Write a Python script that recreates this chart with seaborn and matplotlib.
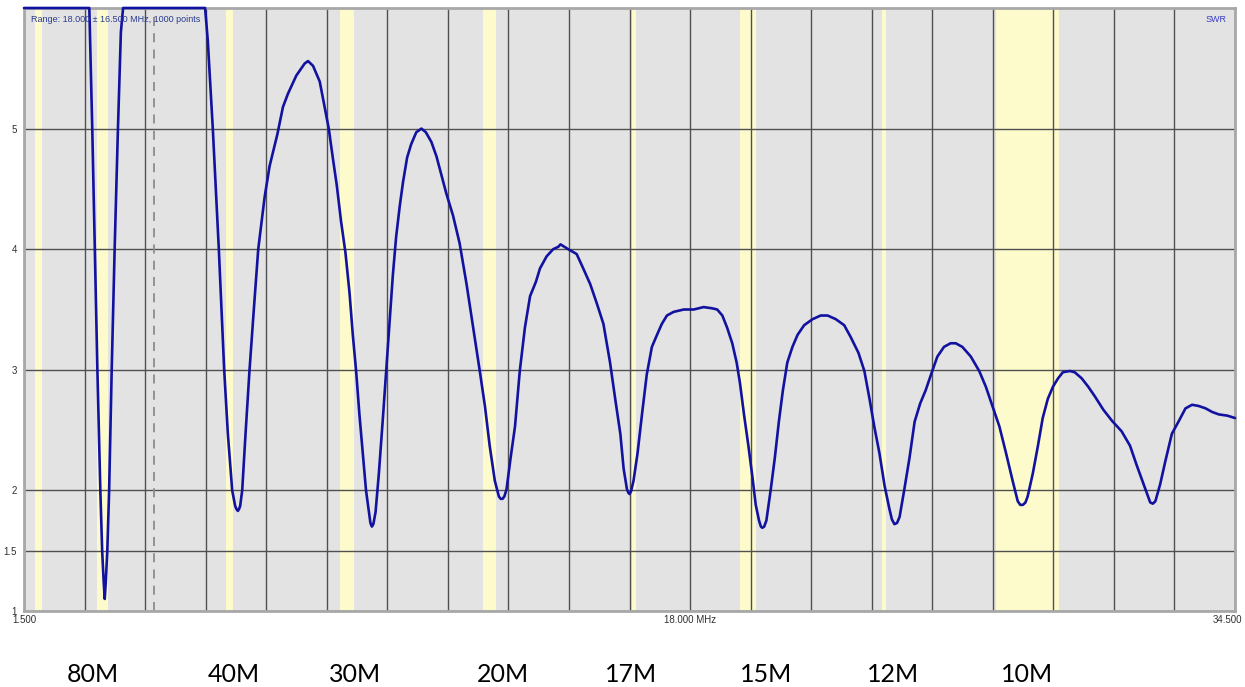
import numpy as np
import pandas as pd
import matplotlib
matplotlib.use("Agg")
import matplotlib.pyplot as plt
import seaborn as sns
from matplotlib.transforms import ScaledTranslation

sns.set_theme(style="white")
plt.rcParams['font.family'] = ['Liberation Sans', 'DejaVu Sans']

# SWR sweep (6.0 = clipped at top of scale)
freq_mhz = [
    1.50, 3.28, 3.36, 3.43, 3.50, 3.58, 3.63, 3.67, 3.70, 3.73, 3.77, 3.82, 3.89, 3.97,
    4.06, 4.14, 4.20, 6.435, 6.508, 6.645, 6.809, 6.955, 7.055, 7.173, 7.255, 7.29, 7.328,
    7.36, 7.39, 7.446, 7.537, 7.646, 7.765, 7.883, 8.056, 8.193, 8.402, 8.557, 8.694, 8.921,
    9.149, 9.24, 9.377, 9.559, 9.686, 9.805, 9.914, 10.023, 10.14, 10.26, 10.37, 10.46,
    10.55, 10.64, 10.73, 10.82, 10.90, 10.94, 10.98, 11.02, 11.08, 11.17, 11.28, 11.37,
    11.46, 11.55, 11.64, 11.74, 11.83, 11.94, 12.05, 12.19, 12.33, 12.45, 12.60, 12.74,
    12.87, 13.01, 13.19, 13.37, 13.56, 13.74, 13.92, 14.06, 14.19, 14.33, 14.44, 14.49,
    14.54, 14.59, 14.65, 14.76, 14.88, 15.01, 15.15, 15.29, 15.45, 15.56, 15.74, 15.92,
    16.06, 16.12, 16.33, 16.56, 16.74, 16.93, 17.11, 17.29, 17.47, 17.61, 17.75, 17.84,
    17.93, 17.97, 18.00, 18.04, 18.11, 18.22, 18.34, 18.47, 18.61, 18.75, 18.88, 19.02,
    19.20, 19.48, 19.75, 20.02, 20.25, 20.39, 20.53, 20.66, 20.80, 20.92, 21.01, 21.12,
    21.24, 21.35, 21.44, 21.53, 21.58, 21.62, 21.67, 21.73, 21.85, 21.96, 22.07, 22.18,
    22.30, 22.44, 22.58, 22.76, 22.99, 23.21, 23.40, 23.62, 23.85, 24.03, 24.24, 24.40,
    24.54, 24.67, 24.81, 24.95, 25.08, 25.15, 25.22, 25.29, 25.36, 25.49, 25.63, 25.77,
    25.92, 26.07, 26.25, 26.39, 26.57, 26.75, 26.89, 27.07, 27.30, 27.53, 27.71, 27.89,
    28.08, 28.26, 28.44, 28.58, 28.65, 28.72, 28.79, 28.85, 28.99, 29.13, 29.26, 29.40,
    29.54, 29.68, 29.81, 30.00, 30.13, 30.32, 30.50, 30.68, 30.91, 31.14, 31.41, 31.64,
    31.82, 32.01, 32.19, 32.26, 32.33, 32.46, 32.60, 32.78, 32.96, 33.15, 33.33, 33.51,
    33.70, 33.88, 34.06, 34.29, 34.50,
]
swr = [
    6.0, 6.0, 5.0, 4.0, 3.0, 2.0, 1.5, 1.25, 1.10, 1.25, 1.5, 2.0, 3.0, 4.0,
    5.0, 5.8, 6.0, 6.0, 5.73, 5.0, 4.0, 3.0, 2.47, 2.0, 1.87, 1.845, 1.83,
    1.845, 1.87, 2.0, 2.47, 3.0, 3.51, 4.0, 4.43, 4.69, 4.95, 5.18, 5.29, 5.44,
    5.54, 5.56, 5.52, 5.39, 5.19, 5.0, 4.76, 4.53, 4.23, 3.97, 3.64, 3.29,
    2.99, 2.63, 2.31, 2.0, 1.82, 1.73, 1.70, 1.72, 1.82, 2.14, 2.60, 2.99,
    3.38, 3.78, 4.10, 4.36, 4.56, 4.76, 4.87, 4.97, 5.0, 4.97, 4.89, 4.77,
    4.62, 4.46, 4.28, 4.05, 3.71, 3.35, 2.99, 2.70, 2.37, 2.08, 1.95, 1.93,
    1.93, 1.95, 2.01, 2.27, 2.53, 2.99, 3.35, 3.61, 3.73, 3.84, 3.94, 4.0,
    4.02, 4.04, 4.0, 3.96, 3.84, 3.71, 3.55, 3.38, 3.06, 2.76, 2.47, 2.18,
    2.01, 1.98, 1.97, 1.99, 2.08, 2.31, 2.63, 2.96, 3.19, 3.29, 3.38, 3.45,
    3.48, 3.50, 3.50, 3.52, 3.51, 3.50, 3.45, 3.35, 3.22, 3.06, 2.89, 2.63,
    2.37, 2.11, 1.88, 1.75, 1.70, 1.69, 1.70, 1.75, 2.01, 2.27, 2.57, 2.83,
    3.06, 3.19, 3.29, 3.37, 3.42, 3.45, 3.45, 3.42, 3.37, 3.27, 3.14, 2.99,
    2.76, 2.53, 2.31, 2.04, 1.85, 1.76, 1.72, 1.73, 1.78, 2.01, 2.27, 2.57,
    2.72, 2.83, 2.99, 3.11, 3.19, 3.22, 3.22, 3.19, 3.11, 2.99, 2.86, 2.70,
    2.53, 2.31, 2.08, 1.91, 1.88, 1.88, 1.90, 1.95, 2.14, 2.37, 2.60, 2.76,
    2.86, 2.93, 2.98, 2.99, 2.98, 2.93, 2.86, 2.78, 2.67, 2.58, 2.49, 2.37,
    2.21, 2.05, 1.90, 1.89, 1.91, 2.05, 2.24, 2.47, 2.57, 2.68, 2.71, 2.70,
    2.68, 2.65, 2.63, 2.62, 2.60,
]

# amateur bands shaded on the analyser display (MHz)
band_lo = [1.8, 3.5, 7.0, 10.1, 14.0, 18.068, 21.0, 24.89, 28.0]
band_hi = [2.0, 3.8, 7.2, 10.5, 14.35, 18.168, 21.45, 24.99, 29.7]
marker_mhz = 5.03

band_names = ["80M", "40M", "30M", "20M", "17M", "15M", "12M", "10M"]
band_name_mhz = [3.38, 7.22, 10.52, 14.55, 18.04, 21.72, 25.18, 28.83]

y_ticks = [1, 1.5, 2, 3, 4, 5]
y_labels = ["1", "1.5", "2", "3", "4", "5"]
x_ticks = np.linspace(1.5, 34.5, 21)
x_labels = ["1.500"] + [""] * 10 + ["18.000 MHz"] + [""] * 8 + ["34.500"]

df = pd.DataFrame({"freq": freq_mhz, "swr": swr})

fig = plt.figure(figsize=(12.45, 6.87), dpi=100)
ax = fig.add_axes([24 / 1245, 1 - 611 / 687, (1235 - 24) / 1245, (611 - 8) / 687])
ax.set_facecolor("#e3e3e3")

for lo, hi in zip(band_lo, band_hi):
    ax.axvspan(lo, hi, color="#fdfbcc", lw=0, zorder=0.2)

ax.axvline(marker_mhz, color="#8c8c8c", lw=1.3, ls=(0, (5, 4)), zorder=0.6)

sns.lineplot(data=df, x="freq", y="swr", ax=ax, color="#1212a0", lw=1.9, zorder=3)
ax.lines[-1].set_clip_on(False)

ax.set_xlim(1.5, 34.5)
ax.set_ylim(1, 6)
ax.set_xticks(x_ticks)
ax.set_xticklabels(x_labels)
ax.set_yticks(y_ticks)
ax.set_yticklabels(y_labels)
ax.set_xlabel("")
ax.set_ylabel("")
ax.set_axisbelow(True)
ax.grid(True, color="#505050", lw=1)
ax.tick_params(axis="both", length=0, labelsize=7, colors="#303030")
ax.tick_params(axis="x", pad=3)
ax.tick_params(axis="y", pad=5)

# keep the right-hand frequency label inside the picture
last = ax.get_xticklabels()[-1]
last.set_horizontalalignment("right")
last.set_transform(last.get_transform() + ScaledTranslation(7 / 100, 0, fig.dpi_scale_trans))

for sp in ax.spines.values():
    sp.set_color("#a8a8a8")
    sp.set_linewidth(2)

ax.text(0.006, 0.988, "Range: 18.000 \u00b1 16.500 MHz, 1000 points", transform=ax.transAxes,
        ha="left", va="top", fontsize=6.5, color="#2b3b8f")
ax.text(0.993, 0.988, "SWR", transform=ax.transAxes, ha="right", va="top",
        fontsize=6.5, color="#3c3cc8")

for name, f in zip(band_names, band_name_mhz):
    ax.text(f, -0.106, name, transform=ax.get_xaxis_transform(), ha="center", va="center",
            fontsize=18, color="black", family=["Lato", "DejaVu Sans"])

fig.savefig("out.png", dpi=100)
